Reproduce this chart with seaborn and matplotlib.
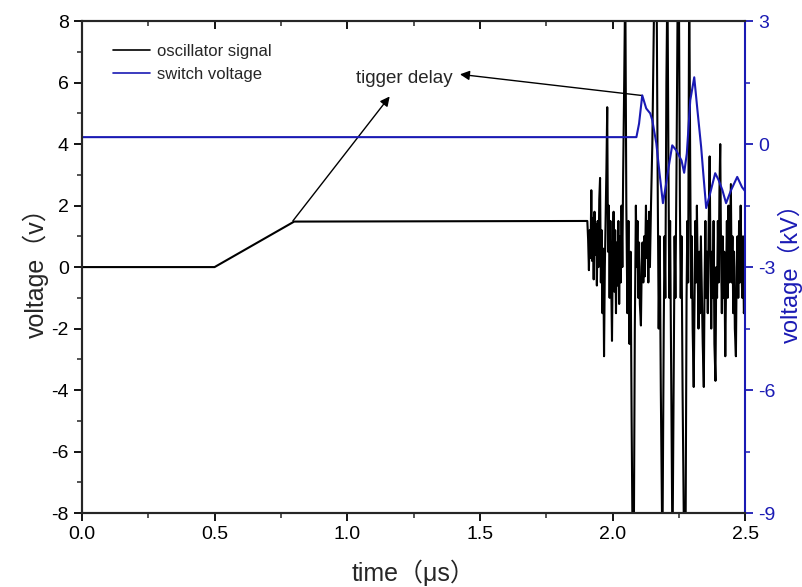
import matplotlib
matplotlib.use("Agg")
import matplotlib.pyplot as plt
import seaborn as sns
import pandas as pd
from matplotlib.ticker import MultipleLocator
from matplotlib.lines import Line2D

# ---- data ----
osc_t = [0.000, 0.500, 0.800, 1.905,
         1.908, 1.911, 1.914, 1.917, 1.920, 1.923, 1.926, 1.929, 1.932, 1.935,
         1.938, 1.941, 1.944, 1.947, 1.950, 1.953, 1.956, 1.959, 1.962, 1.965,
         1.968, 1.971, 1.974, 1.977, 1.980, 1.983, 1.986, 1.989, 1.992, 1.995,
         1.998, 2.001, 2.004, 2.007, 2.010, 2.013, 2.016, 2.019, 2.022, 2.025,
         2.028, 2.031, 2.034, 2.037, 2.040, 2.044, 2.048, 2.052, 2.056, 2.060,
         2.064, 2.068, 2.072, 2.076, 2.080, 2.084, 2.088, 2.091, 2.094, 2.097,
         2.100, 2.103, 2.107, 2.110, 2.113, 2.116, 2.119, 2.122, 2.126, 2.129,
         2.132, 2.135, 2.138, 2.141, 2.145, 2.150, 2.158, 2.166, 2.170, 2.174,
         2.178, 2.182, 2.188, 2.193, 2.196, 2.199, 2.203, 2.207, 2.211, 2.214,
         2.217, 2.221, 2.226, 2.231, 2.234, 2.237, 2.241, 2.246, 2.250, 2.254,
         2.257, 2.260, 2.264, 2.270, 2.275, 2.279, 2.282, 2.285, 2.289, 2.293,
         2.296, 2.299, 2.302, 2.306, 2.309, 2.312, 2.315, 2.318, 2.321, 2.324,
         2.327, 2.330, 2.333, 2.336, 2.340, 2.344, 2.347, 2.350, 2.353, 2.356,
         2.359, 2.362, 2.366, 2.369, 2.372, 2.375, 2.378, 2.381, 2.384, 2.388,
         2.391, 2.394, 2.397, 2.400, 2.403, 2.406, 2.409, 2.412, 2.415, 2.418,
         2.421, 2.425, 2.428, 2.431, 2.434, 2.437, 2.440, 2.443, 2.446, 2.449,
         2.452, 2.455, 2.458, 2.461, 2.465, 2.468, 2.471, 2.474, 2.477, 2.480,
         2.483, 2.486, 2.489, 2.492, 2.495, 2.500]
osc_v = [0.0, 0.0, 1.48, 1.5,
         0.9, -0.1, 1.2, 0.3, 2.5, 0.2, 1.6, -0.4, 1.8, 0.4,
         1.4, -0.6, 1.5, 0.0, 2.2, 2.9, -0.5, 1.2, -1.5, 0.6,
         -2.9, 0.0, 1.5, 3.2, 5.2, 0.5, 2.0, -1.0, 1.5, -0.5,
         -2.4, 0.5, 1.8, -0.8, 1.2, -1.5, 0.8, -0.6, 1.5, -1.2,
         1.0, -0.5, 2.0, 0.0, 3.0, 6.0, 9.5, 2.0, -1.5, 1.5,
         -2.5, 0.5, -5.0, -9.5, -9.5, -2.0, 2.0, 0.0, 1.5, -1.0,
         0.8, -1.2, -1.9, 0.0, 0.8, -0.5, 1.0, -0.3, 2.0, 0.3,
         1.5, -0.5, 1.8, 0.0, 2.0, 4.0, 9.5, 9.5, 3.0, -2.0,
         1.0, -4.0, -9.5, -2.0, 1.0, -1.0, 6.0, 9.5, 3.0, -1.0,
         1.5, -3.5, -9.5, -3.0, 1.0, -1.0, 3.0, 9.5, 9.5, 2.0,
         -1.0, 1.0, -4.0, -9.5, -9.5, -1.0, 1.5, -0.5, 9.5, 3.0,
         -1.0, 1.0, -2.0, -3.9, -1.0, 1.5, -0.5, 2.0, 0.0, -2.0,
         0.5, -1.5, 1.0, -0.5, -2.5, -3.9, -0.5, 1.5, -1.0, 0.5,
         -1.5, 1.0, 3.6, 0.5, -2.0, 0.5, -1.0, 1.5, -2.5, -3.7,
         0.0, -1.0, 1.5, -0.5, 2.5, 4.0, 0.5, -1.5, 1.0, -1.0,
         0.5, -2.9, -0.5, 1.5, -1.0, 2.0, -0.5, 1.0, 2.7, -0.5,
         1.0, -1.5, 0.5, -2.0, -2.9, 0.0, 1.0, -1.0, 1.5, -0.5,
         2.0, 0.0, -1.0, 1.0, -1.5, -1.0]

sw_t = [0, 2.09, 2.100, 2.112, 2.127, 2.142, 2.150, 2.165, 2.177, 2.190, 2.200, 2.214, 2.225,
        2.240, 2.260, 2.270, 2.280, 2.293, 2.308, 2.320, 2.334, 2.342, 2.353, 2.368, 2.387,
        2.400, 2.414, 2.428, 2.447, 2.470, 2.488, 2.500]
sw_v = [0.17, 0.17, 0.5, 1.19, 0.87, 0.75, 0.58, 0.02, -0.7, -1.44, -1.05, -0.46, -0.03,
        -0.15, -0.4, -0.7, -0.23, 1.07, 1.63, 0.83, -0.07, -0.71, -1.56, -1.2, -0.71,
        -0.88, -1.12, -1.44, -1.12, -0.8, -1.05, -1.15]

x_ticks = [0.0, 0.5, 1.0, 1.5, 2.0, 2.5]
y_left_ticks = [-8, -6, -4, -2, 0, 2, 4, 6, 8]
y_right_ticks = [-9, -6, -3, 0, 3]
annot_text = "tigger delay"

osc_df = pd.DataFrame({"t": osc_t, "v": osc_v})
sw_df = pd.DataFrame({"t": sw_t, "v": sw_v})

sns.set_style("ticks")
plt.rcParams["font.family"] = ["Liberation Sans", "Noto Sans CJK SC", "DejaVu Sans"]

BLUE = "#1a1ab4"

fig = plt.figure(figsize=(8.03, 5.87), dpi=100)
ax = fig.add_axes([0.102, 0.126, 0.826, 0.838])
ax2 = ax.twinx()

sns.lineplot(data=osc_df, x="t", y="v", ax=ax, color="black", lw=1.5,
             sort=False, estimator=None)
sns.lineplot(data=sw_df, x="t", y="v", ax=ax2, color=BLUE, lw=1.5,
             sort=False, estimator=None)

ax.set_xlim(0, 2.5)
ax.set_ylim(-8, 8)
ax2.set_ylim(-9, 3)

ax.set_xticks(x_ticks)
ax.set_xticklabels([f"{v:.1f}" for v in x_ticks])
ax.set_yticks(y_left_ticks)
ax.set_yticklabels([str(v) for v in y_left_ticks])
ax.xaxis.set_minor_locator(MultipleLocator(0.25))
ax.yaxis.set_minor_locator(MultipleLocator(1))
ax2.set_yticks(y_right_ticks)
ax2.set_yticklabels([str(v) for v in y_right_ticks])
ax2.yaxis.set_minor_locator(MultipleLocator(1.5))

ax.tick_params(axis="both", which="major", direction="out", length=6, width=1.3,
               labelsize=14, colors="black")
ax.tick_params(axis="both", which="minor", direction="out", length=3.5, width=1.1)
ax.tick_params(axis="x", which="both", top=True, labeltop=False)
ax2.tick_params(axis="y", which="major", direction="out", length=6, width=1.3,
                labelsize=14, colors=BLUE)
ax2.tick_params(axis="y", which="minor", direction="out", length=3.5, width=1.1, colors=BLUE)

# top ticks pointing inward
for tl in ax.xaxis.get_ticklines(minor=False)[1::2]:
    tl.set_marker(3)
for tl in ax.xaxis.get_ticklines(minor=True)[1::2]:
    tl.set_marker(3)

for s in ["left", "top", "bottom"]:
    ax.spines[s].set_linewidth(1.5)
    ax2.spines[s].set_linewidth(1.5)
ax2.spines["right"].set_color(BLUE)
ax2.spines["right"].set_linewidth(1.5)
ax.spines["right"].set_visible(False)

ax.set_xlabel("time（μs）", fontsize=18, labelpad=12)
ax.set_ylabel("voltage（v）", fontsize=18, labelpad=2)
ax2.set_ylabel("voltage（kV）", fontsize=17, color=BLUE)
ax2.yaxis.set_label_coords(1.049, 0.5)

ax.text(1.216, 6.15, annot_text, fontsize=13.5, ha="center", va="center")
ax.annotate("", xy=(1.16, 5.55), xytext=(0.795, 1.5),
            arrowprops=dict(arrowstyle="-|>", color="black", lw=1.0,
                            mutation_scale=14, shrinkA=0, shrinkB=0))
ax.annotate("", xy=(1.425, 6.27), xytext=(2.112, 5.58),
            arrowprops=dict(arrowstyle="-|>", color="black", lw=1.0,
                            mutation_scale=14, shrinkA=0, shrinkB=0))

handles = [Line2D([], [], color="black", lw=1.2), Line2D([], [], color=BLUE, lw=1.2)]
ax.legend(handles, ["oscillator signal", "switch voltage"], loc="upper left",
          bbox_to_anchor=(0.025, 0.985), frameon=False, fontsize=12,
          handlelength=2.2, handletextpad=0.4, labelspacing=0.5)

fig.savefig("out.png", dpi=100)
